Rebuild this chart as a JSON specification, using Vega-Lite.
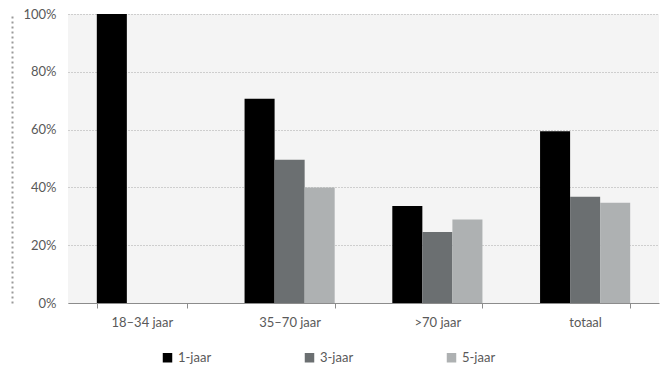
{
  "$schema": "https://vega.github.io/schema/vega-lite/v6.json",
  "width": 591,
  "height": 289,
  "autosize": {"type": "none"},
  "padding": {"left": 68, "top": 14, "right": 5, "bottom": 67},
  "background": "white",
  "config": {
    "view": {"fill": "#f4f4f4", "stroke": null},
    "font": "Lato"
  },
  "data": {
    "values": [
      {"groep": "18–34 jaar", "reeks": "1-jaar", "waarde": 100},
      {"groep": "18–34 jaar", "reeks": "3-jaar", "waarde": 0},
      {"groep": "18–34 jaar", "reeks": "5-jaar", "waarde": 0},
      {"groep": "35–70 jaar", "reeks": "1-jaar", "waarde": 70.7},
      {"groep": "35–70 jaar", "reeks": "3-jaar", "waarde": 49.6},
      {"groep": "35–70 jaar", "reeks": "5-jaar", "waarde": 40.0},
      {"groep": ">70 jaar", "reeks": "1-jaar", "waarde": 33.6},
      {"groep": ">70 jaar", "reeks": "3-jaar", "waarde": 24.6},
      {"groep": ">70 jaar", "reeks": "5-jaar", "waarde": 28.9},
      {"groep": "totaal", "reeks": "1-jaar", "waarde": 59.4},
      {"groep": "totaal", "reeks": "3-jaar", "waarde": 36.8},
      {"groep": "totaal", "reeks": "5-jaar", "waarde": 34.7}
    ]
  },
  "encoding": {
    "x": {
      "field": "groep",
      "type": "nominal",
      "sort": ["18–34 jaar", "35–70 jaar", ">70 jaar", "totaal"],
      "scale": {"paddingInner": 0.39, "paddingOuter": 0.195},
      "axis": {
        "title": null,
        "labelAngle": 0,
        "labelFontSize": 13,
        "labelColor": "#595959",
        "labelPadding": 8,
        "domainColor": "#8c8c8c",
        "tickColor": "#8c8c8c",
        "tickSize": 5,
        "tickBand": "extent",
        "grid": false
      }
    },
    "xOffset": {
      "field": "reeks",
      "type": "nominal",
      "sort": ["1-jaar", "3-jaar", "5-jaar"],
      "scale": {"paddingInner": 0, "paddingOuter": 0}
    }
  },
  "layer": [
    {
      "mark": {"type": "bar"},
      "encoding": {
        "y": {
          "field": "waarde",
          "type": "quantitative",
          "scale": {"domain": [0, 100], "nice": false},
          "axis": {
            "title": null,
            "orient": "left",
            "values": [0, 20, 40, 60, 80, 100],
            "labelExpr": "datum.value + '%'",
            "labelFontSize": 13,
            "labelColor": "#595959",
            "labelPadding": 12,
            "domain": false,
            "ticks": false,
            "gridColor": "#a8a8a8",
            "gridDash": [1, 2],
            "gridWidth": 1
          }
        },
        "color": {
          "field": "reeks",
          "type": "nominal",
          "sort": ["1-jaar", "3-jaar", "5-jaar"],
          "scale": {"range": ["#000000", "#6b6f71", "#aeb1b2"]},
          "legend": {
            "title": null,
            "orient": "none",
            "legendX": 93,
            "legendY": 337,
            "direction": "horizontal",
            "symbolType": "square",
            "symbolSize": 90,
            "symbolStrokeWidth": 0,
            "labelFontSize": 13,
            "labelColor": "#595959",
            "labelOffset": 4,
            "columnPadding": 91
          }
        }
      }
    },
    {
      "mark": {"type": "bar", "opacity": 0},
      "encoding": {
        "y": {
          "field": "waarde",
          "type": "quantitative",
          "scale": {"domain": [0, 100], "nice": false},
          "axis": {
            "title": null,
            "orient": "left",
            "offset": 56,
            "labels": false,
            "ticks": false,
            "grid": false,
            "domainColor": "#9a9a9a",
            "domainDash": [2, 3],
            "domainWidth": 2
          }
        }
      }
    }
  ],
  "resolve": {"scale": {"y": "independent"}, "axis": {"y": "independent"}}
}
